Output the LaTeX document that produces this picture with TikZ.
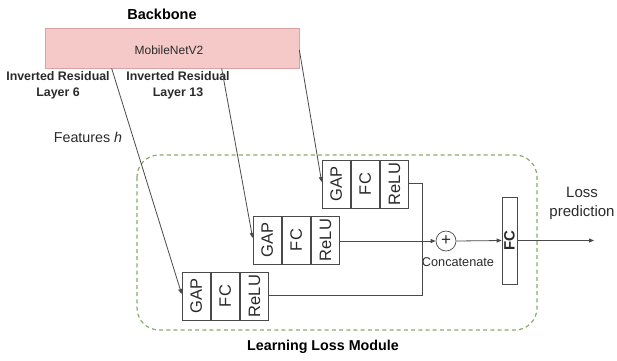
\documentclass[tikz,border=0pt]{standalone}
\usepackage{fontspec}
\setmainfont{Liberation Sans}
\usetikzlibrary{arrows.meta,calc}
\definecolor{pinkfill}{HTML}{F6C9C9}
\definecolor{pinkline}{HTML}{D9A3A3}
\definecolor{modgreen}{HTML}{8AAA68}
\definecolor{ink}{HTML}{2A2A2A}
\definecolor{edge}{HTML}{4A4A4A}
\tikzset{
  fs/.style={font=\fontsize{#1}{#1}\selectfont},
  cell/.style={draw=edge, line width=0.7pt, minimum width=28.4pt, minimum height=48pt,
    inner sep=0pt, text=ink, fs=16.5},
  conn/.style={draw=edge, line width=0.8pt},
  arr/.style={conn, -{Triangle[length=5pt,width=4pt]}},
  lbl/.style={text=ink, inner sep=0pt, align=center},
}
\newcommand{\vtxt}[1]{\rotatebox{90}{#1}}
\begin{document}
\begin{tikzpicture}[x=1pt,y=-1pt]
\useasboundingbox (0,0) rectangle (617,360);

% backbone
\node[lbl, fs=14.5, text=black] (bbtitle) at (162,14) {\textbf{Backbone}};
\node[draw=pinkline, fill=pinkfill, line width=0.7pt, minimum width=254pt, minimum height=40pt,
      inner sep=0pt] (bb) at (172,48) {};
\node[lbl, fs=12] (mnet) at (169,50) {MobileNetV2};
\node[lbl, fs=12.4] (l6) at (58,85.5) {\textbf{Inverted Residual}\\[4pt]\textbf{Layer 6}};
\node[lbl, fs=12.4] (l13) at (178,85.5) {\textbf{Inverted Residual}\\[4pt]\textbf{Layer 13}};
\node[lbl, fs=14.3] (feat) at (88,137) {Features \textit{h}};

% learning loss module frame
\draw[modgreen, line width=1.2pt, dash pattern=on 4pt off 3.2pt, rounded corners=22pt]
  (137,155) rectangle (537,330);
\node[lbl, fs=14.3, text=black] (llm) at (323,347) {\textbf{Learning Loss Module}};

% branch heads: GAP / FC / ReLU
\node[cell] (g1) at (336.2,184) {\vtxt{GAP}};
\node[cell, anchor=west] (f1) at (g1.east) {\vtxt{FC}};
\node[cell, anchor=west] (r1) at (f1.east) {\vtxt{ReLU}};

\node[cell] (g2) at (267.2,240) {\vtxt{GAP}};
\node[cell, anchor=west] (f2) at (g2.east) {\vtxt{FC}};
\node[cell, anchor=west] (r2) at (f2.east) {\vtxt{ReLU}};

\node[cell] (g3) at (196.2,296) {\vtxt{GAP}};
\node[cell, anchor=west] (f3) at (g3.east) {\vtxt{FC}};
\node[cell, anchor=west] (r3) at (f3.east) {\vtxt{ReLU}};

% concatenation and final layer
\node[draw=edge, line width=0.7pt, circle, minimum size=20pt, inner sep=0pt, text=ink, fs=17]
  (cat) at (446,241) {+};
\node[lbl, fs=12.7] (catlbl) at (458,262) {Concatenate};
\node[draw=edge, line width=0.7pt, minimum width=15pt, minimum height=87pt, inner sep=0pt,
      text=ink, fs=15] (fc) at (509.5,240.5) {\vtxt{\textbf{FC}}};
\node[lbl, fs=15] (loss) at (582,203.5) {Loss\\[4pt]prediction};
\coordinate (out) at (594,240.5);

% feature taps from the backbone
\draw[arr] ($(bb.south west)+(67,0)$) -- ([yshift=2pt]g3.west);
\draw[arr] ($(bb.south west)+(177,0)$) -- ([yshift=2pt]g2.west);
\draw[arr] ([yshift=-2pt]bb.east) -- ([yshift=2pt]g1.west);

% merge into concatenation
\draw[conn] ([yshift=1pt]r1.east) -- ++(13,0) |- ([yshift=1pt]r3.east);
\draw[arr] ([yshift=-1pt]r2.east) -- (cat.west);
\draw[arr] (cat.east) -- (fc.west);
\draw[arr] (fc.east) -- (out);
\end{tikzpicture}
\end{document}
